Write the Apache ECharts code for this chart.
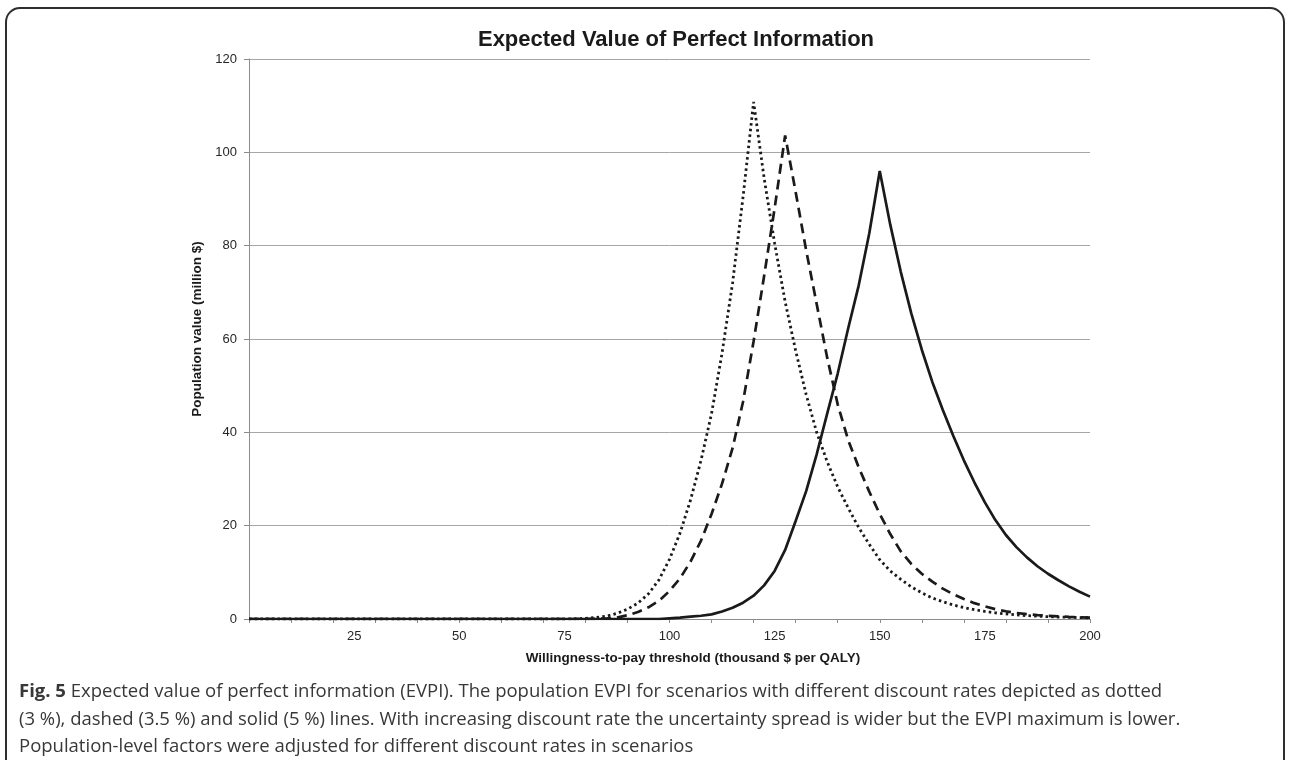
<!DOCTYPE html>
<html>
<head>
<meta charset="utf-8">
<script src="https://cdn.jsdelivr.net/npm/echarts@6/dist/echarts.min.js"></script>
<style>
html,body{margin:0;padding:0;background:#fff;}
#chart{width:1290px;height:760px;}
</style>
</head>
<body>
<div id="chart"></div>
<script>
// Willingness-to-pay threshold (thousand $ per QALY)
const wtp = [0,2.5,5,7.5,10,12.5,15,17.5,20,22.5,25,27.5,30,32.5,35,37.5,40,42.5,45,47.5,
  50,52.5,55,57.5,60,62.5,65,67.5,70,72.5,75,77.5,80,82.5,85,87.5,90,92.5,95,97.5,
  100,102.5,105,107.5,110,112.5,115,117.5,120,122.5,125,127.5,130,132.5,135,137.5,140,142.5,145,147.5,
  150,152.5,155,157.5,160,162.5,165,167.5,170,172.5,175,177.5,180,182.5,185,187.5,190,192.5,195,197.5,200];

// Population EVPI (million $), discount rate 3 % (dotted)
const evpi3 = [0,0,0,0,0,0,0,0,0,0,0,0,0,0,0,0,0,0,0,0,
  0,0,0,0,0,0,0,0,0,0,0,0.05,0.15,0.3,0.6,1.2,2.1,3.4,5.4,8.4,
  12.8,18.4,25.5,34,44,57,72,90.5,110.8,94.5,80.5,68,57.5,48.1,40,33.7,28.3,23.8,19.6,16.0,
  12.7,10.3,8.5,6.9,5.6,4.5,3.7,3.0,2.45,2.0,1.62,1.32,1.08,0.88,0.72,0.6,0.5,0.42,0.36,0.3,0.26];

// Population EVPI (million $), discount rate 3.5 % (dashed)
const evpi35 = [0,0,0,0,0,0,0,0,0,0,0,0,0,0,0,0,0,0,0,0,
  0,0,0,0,0,0,0,0,0,0,0,0,0.02,0.05,0.1,0.3,0.8,1.5,2.5,3.9,
  6.0,8.7,12.3,16.8,22.5,29.0,36.6,46.6,59.5,73.5,88,103.6,91.5,79,67.5,56,46,38.3,32.5,27.3,
  22.5,18.2,14.5,11.8,9.7,8.0,6.5,5.3,4.3,3.4,2.7,2.1,1.65,1.3,1.05,0.85,0.7,0.55,0.45,0.37,0.3];

// Population EVPI (million $), discount rate 5 % (solid)
const evpi5 = [0,0,0,0,0,0,0,0,0,0,0,0,0,0,0,0,0,0,0,0,
  0,0,0,0,0,0,0,0,0,0,0,0,0,0,0,0,0,0,0,0,
  0.15,0.3,0.5,0.7,1.0,1.6,2.4,3.5,5.0,7.2,10.3,14.8,21.0,27.4,35.3,44,52.6,62.3,71.5,82.6,
  96,84.5,74.4,65.5,57.7,50.8,44.8,39.2,34.0,29.3,25.0,21.2,18.0,15.4,13.2,11.3,9.7,8.3,7.0,5.85,4.8];

const yTicks = {min: 0, max: 120, step: 20};
const xTicks = {min: 0, max: 200, minorStep: 10, labelStep: 25};

const titleText = 'Expected Value of Perfect Information';
const xName = 'Willingness-to-pay threshold (thousand $ per QALY)';
const yName = 'Population value (million $)';
const captionLines = [
  '{b|Fig. 5} Expected value of perfect information (EVPI). The population EVPI for scenarios with different discount rates depicted as dotted',
  '(3 %), dashed (3.5 %) and solid (5 %) lines. With increasing discount rate the uncertainty spread is wider but the EVPI maximum is lower.',
  'Population-level factors were adjusted for different discount rates in scenarios'
];

const pairs = arr => wtp.map((x, i) => [x, arr[i]]);

const axisFont = "'Liberation Sans', Arial, Helvetica, sans-serif";
const capFont = "'Open Sans', sans-serif";
const gridGray = '#a6a6a6';
const lineBlack = '#1a1a1a';

const chart = echarts.init(document.getElementById('chart'), null, {renderer: 'canvas'});
chart.setOption({
  backgroundColor: '#ffffff',
  animation: false,
  title: [
    {
      text: titleText,
      left: 671, top: 24, textAlign: 'center',
      textStyle: {fontFamily: axisFont, fontSize: 22, fontWeight: 'bold', color: '#1a1a1a'}
    },
    {
      text: captionLines.join('\n'),
      left: 14, top: 673,
      textStyle: {
        fontFamily: capFont, fontSize: 18.5, fontWeight: 'normal',
        color: '#383838', lineHeight: 27.5,
        rich: {b: {fontFamily: capFont, fontSize: 18.5, fontWeight: 'bold', color: '#383838', lineHeight: 27.5}}
      }
    }
  ],
  graphic: [{
    type: 'rect', silent: true, z: -1,
    shape: {x: 6, y: 8, width: 1278, height: 820, r: 14},
    style: {fill: 'none', stroke: '#2e2e2e', lineWidth: 2}
  }],
  grid: {left: 249, right: 200, top: 59, bottom: 141, containLabel: false, outerBoundsMode: 'none'},
  xAxis: [
    {
      type: 'value', min: xTicks.min, max: xTicks.max, interval: xTicks.minorStep,
      axisLine: {show: true, lineStyle: {color: '#8c8c8c', width: 1}},
      axisTick: {show: true, length: 4, lineStyle: {color: '#8c8c8c'}},
      axisLabel: {show: false},
      splitLine: {show: false}
    },
    {
      type: 'value', min: xTicks.min, max: xTicks.max, interval: xTicks.labelStep, position: 'bottom',
      axisLine: {show: false}, axisTick: {show: false}, splitLine: {show: false},
      axisLabel: {show: true, margin: 11, fontFamily: axisFont, fontSize: 13, color: '#262626',
        formatter: v => (v === 0 ? '' : String(v))},
      name: xName, nameLocation: 'middle', nameGap: 32,
      nameTextStyle: {fontFamily: axisFont, fontSize: 13.5, fontWeight: 'bold', color: '#1a1a1a', padding: [0, 0, 0, 47]}
    }
  ],
  yAxis: {
    type: 'value', min: yTicks.min, max: yTicks.max, interval: yTicks.step,
    axisLine: {show: true, lineStyle: {color: '#8c8c8c', width: 1}},
    axisTick: {show: true, length: 5, lineStyle: {color: '#8c8c8c'}},
    axisLabel: {margin: 12, fontFamily: axisFont, fontSize: 13, color: '#262626'},
    splitLine: {show: true, lineStyle: {color: gridGray, width: 1}},
    name: yName, nameLocation: 'middle', nameGap: 33, nameRotate: 90,
    nameTextStyle: {fontFamily: axisFont, fontSize: 13.5, fontWeight: 'bold', color: '#1a1a1a', padding: [0, 0, 0, 20]}
  },
  series: [
    {
      name: '3 %', type: 'line', xAxisIndex: 0, data: pairs(evpi3), showSymbol: false, symbol: 'none',
      lineStyle: {color: lineBlack, width: 2.8, type: [2.5, 3.2], cap: 'butt'}, z: 3
    },
    {
      name: '3.5 %', type: 'line', xAxisIndex: 0, data: pairs(evpi35), showSymbol: false, symbol: 'none',
      lineStyle: {color: lineBlack, width: 2.7, type: [10, 6], cap: 'butt'}, z: 3
    },
    {
      name: '5 %', type: 'line', xAxisIndex: 0, data: pairs(evpi5), showSymbol: false, symbol: 'none',
      lineStyle: {color: lineBlack, width: 2.7, type: 'solid'}, z: 3
    }
  ]
});
</script>
</body>
</html>
